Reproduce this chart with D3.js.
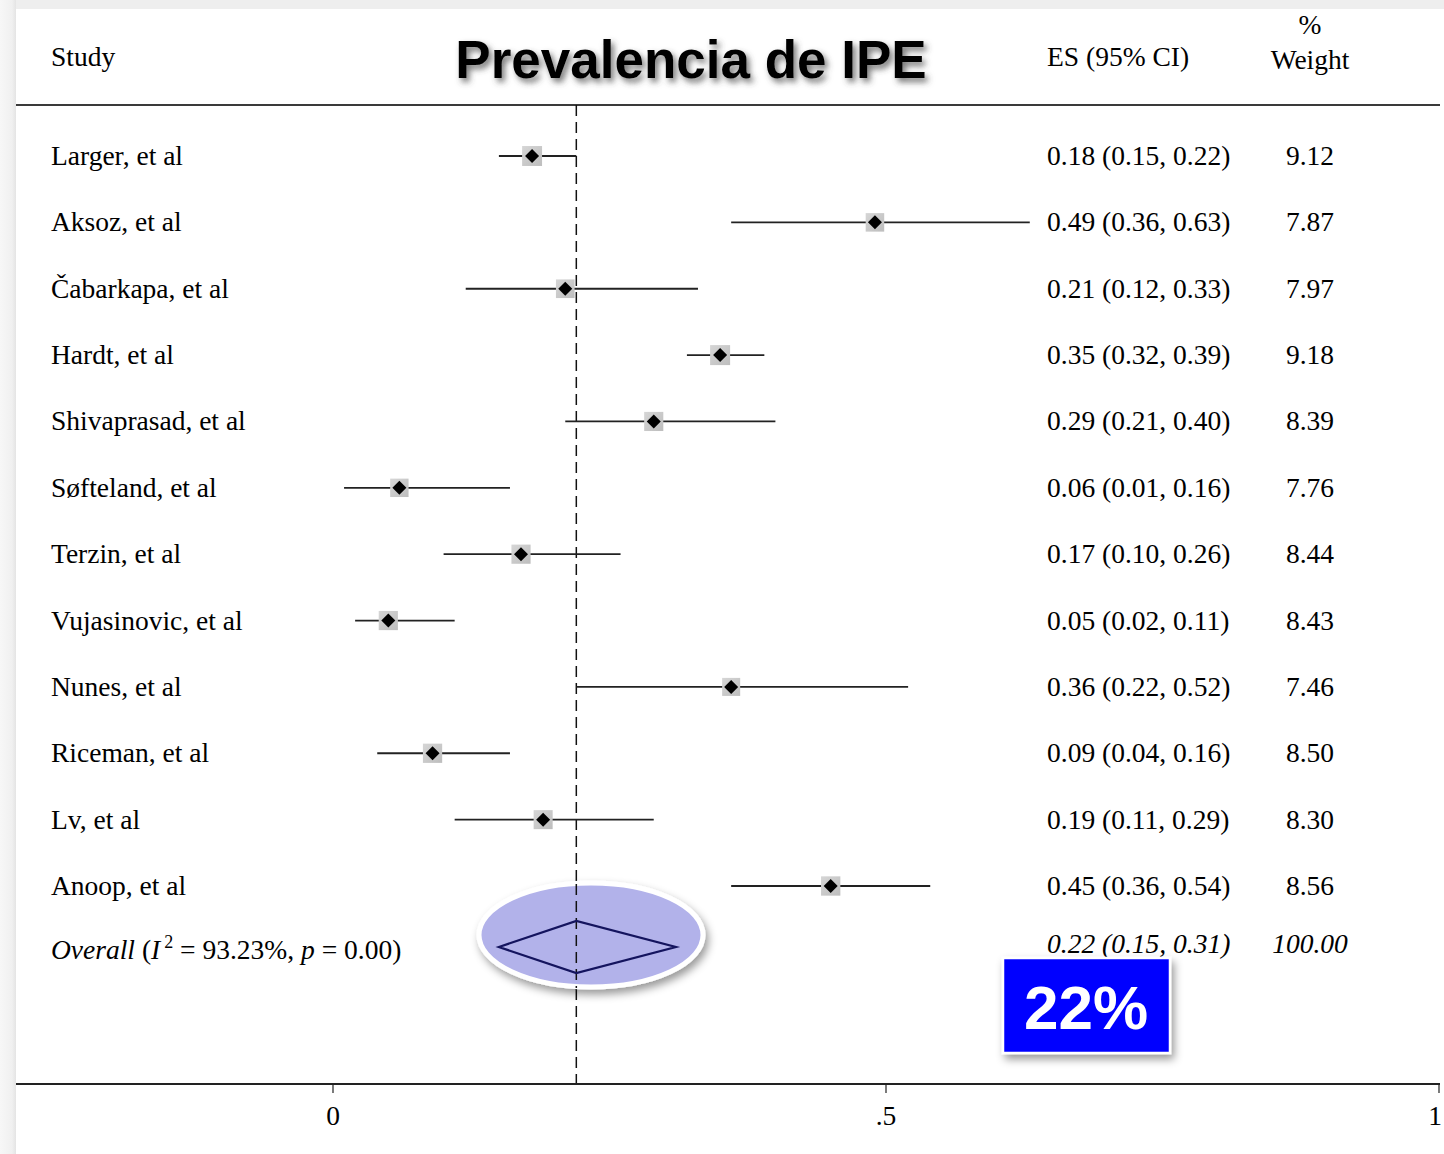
<!DOCTYPE html>
<html>
<head>
<meta charset="utf-8">
<script src="https://cdn.jsdelivr.net/npm/d3@7"></script>
<style>
  html, body { margin: 0; padding: 0; background: #ffffff; }
  svg { display: block; }
</style>
</head>
<body>
<script>
// Study-level prevalence estimates of exocrine pancreatic insufficiency
const studies = ["Larger, et al", "Aksoz, et al", "Čabarkapa, et al", "Hardt, et al",
  "Shivaprasad, et al", "Søfteland, et al", "Terzin, et al", "Vujasinovic, et al",
  "Nunes, et al", "Riceman, et al", "Lv, et al", "Anoop, et al"];
const es    = [0.18, 0.49, 0.21, 0.35, 0.29, 0.06, 0.17, 0.05, 0.36, 0.09, 0.19, 0.45];
const lower = [0.15, 0.36, 0.12, 0.32, 0.21, 0.01, 0.10, 0.02, 0.22, 0.04, 0.11, 0.36];
const upper = [0.22, 0.63, 0.33, 0.39, 0.40, 0.16, 0.26, 0.11, 0.52, 0.16, 0.29, 0.54];
const weights = ["9.12", "7.87", "7.97", "9.18", "8.39", "7.76", "8.44", "8.43", "7.46", "8.50", "8.30", "8.56"];

// Pooled estimate
const overallES = 0.22, overallLo = 0.15, overallHi = 0.31;
const overallWeight = "100.00";
const overallI2 = "93.23%", overallP = "0.00";

const xTicks = [0, 0.5, 1];
const xTickLabels = ["0", ".5", "1"];

const W = 1444, H = 1154;
const serif = "'Liberation Serif', 'Times New Roman', serif";
const sans = "'Liberation Sans', Arial, Helvetica, sans-serif";
const fs = 27.5;
const ink = "#000";

const svg = d3.select("body").append("svg").attr("width", W).attr("height", H);
const defs = svg.append("defs");

defs.append("filter").attr("id", "titleShadow")
  .attr("x", "-10%").attr("y", "-30%").attr("width", "130%").attr("height", "170%")
  .append("feDropShadow").attr("dx", 3).attr("dy", 4).attr("stdDeviation", 3)
  .attr("flood-color", "#444").attr("flood-opacity", 0.75);

defs.append("filter").attr("id", "boxShadow")
  .attr("x", "-20%").attr("y", "-20%").attr("width", "150%").attr("height", "150%")
  .append("feDropShadow").attr("dx", 3).attr("dy", 5).attr("stdDeviation", 4)
  .attr("flood-color", "#000").attr("flood-opacity", 0.4);

const sq = defs.append("linearGradient").attr("id", "sqGrad")
  .attr("x1", 0).attr("y1", 0).attr("x2", 1).attr("y2", 1);
sq.append("stop").attr("offset", "0%").attr("stop-color", "#d6d6d6");
sq.append("stop").attr("offset", "100%").attr("stop-color", "#bdbdbd");

// Page frame: pale strips along the top and left
const leftGrad = defs.append("linearGradient").attr("id", "leftGrad")
  .attr("x1", 0).attr("y1", 0).attr("x2", 1).attr("y2", 0);
leftGrad.append("stop").attr("offset", "0%").attr("stop-color", "#f7f7f7");
leftGrad.append("stop").attr("offset", "75%").attr("stop-color", "#f0f0f0");
leftGrad.append("stop").attr("offset", "100%").attr("stop-color", "#e4e4e4");
svg.append("rect").attr("x", 0).attr("y", 0).attr("width", W).attr("height", 9).attr("fill", "#eeeeee");
svg.append("rect").attr("x", 0).attr("y", 0).attr("width", 16).attr("height", H).attr("fill", "url(#leftGrad)");

// Scales
const x = d3.scaleLinear().domain([0, 1]).range([333, 1439]);
const y = d3.scaleLinear().domain([0, studies.length - 1]).range([156, 886]);
const yOverall = 947;
const plotTop = 105, axisY = 1084;

// Header rule
svg.append("line").attr("x1", 16).attr("x2", 1440).attr("y1", plotTop).attr("y2", plotTop)
  .attr("stroke", "#3a3a3a").attr("stroke-width", 2);

// Dashed reference at the pooled estimate
svg.append("line").attr("x1", x(overallES)).attr("x2", x(overallES))
  .attr("y1", plotTop).attr("y2", axisY)
  .attr("stroke", "#111").attr("stroke-width", 1.5).attr("stroke-dasharray", "11,6");

// Headers
svg.append("text").attr("x", 51).attr("y", 66).attr("font-family", serif)
  .attr("font-size", fs).attr("fill", ink).text("Study");
svg.append("text").attr("x", 1047).attr("y", 66).attr("font-family", serif)
  .attr("font-size", fs).attr("fill", ink).text("ES (95% CI)");
svg.append("text").attr("x", 1310).attr("y", 34).attr("text-anchor", "middle").attr("font-family", serif)
  .attr("font-size", fs).attr("fill", ink).text("%");
svg.append("text").attr("x", 1310).attr("y", 69).attr("text-anchor", "middle").attr("font-family", serif)
  .attr("font-size", fs).attr("fill", ink).text("Weight");

svg.append("text").attr("x", 691).attr("y", 78).attr("text-anchor", "middle")
  .attr("font-family", sans).attr("font-weight", "bold").attr("font-size", 53)
  .attr("fill", "#000").attr("filter", "url(#titleShadow)").text("Prevalencia de IPE");

// Study rows
const rows = svg.append("g").selectAll("g").data(studies).join("g");

rows.append("text").attr("x", 51).attr("y", (d, i) => y(i) + 9)
  .attr("font-family", serif).attr("font-size", fs).attr("fill", ink).text(d => d);

rows.append("line")
  .attr("x1", (d, i) => x(lower[i])).attr("x2", (d, i) => x(upper[i]))
  .attr("y1", (d, i) => y(i)).attr("y2", (d, i) => y(i))
  .attr("stroke", "#222").attr("stroke-width", 1.8);

const wMax = d3.max(weights, w => +w);
rows.append("rect")
  .each(function (d, i) {
    const s = 20 * Math.sqrt(+weights[i] / wMax);
    d3.select(this).attr("x", x(es[i]) - s / 2).attr("y", y(i) - s / 2)
      .attr("width", s).attr("height", s);
  })
  .attr("fill", "url(#sqGrad)");

rows.append("path")
  .attr("d", (d, i) => {
    const cx = x(es[i]), cy = y(i), r = 7;
    return `M${cx - r},${cy}L${cx},${cy - r}L${cx + r},${cy}L${cx},${cy + r}Z`;
  })
  .attr("fill", "#000");

rows.append("text").attr("x", 1047).attr("y", (d, i) => y(i) + 9)
  .attr("font-family", serif).attr("font-size", fs).attr("fill", ink)
  .text((d, i) => `${es[i].toFixed(2)} (${lower[i].toFixed(2)}, ${upper[i].toFixed(2)})`);

rows.append("text").attr("x", 1310).attr("y", (d, i) => y(i) + 9).attr("text-anchor", "middle")
  .attr("font-family", serif).attr("font-size", fs).attr("fill", ink)
  .text((d, i) => weights[i]);

// Overall row
const ov = svg.append("text").attr("x", 51).attr("y", yOverall + 12)
  .attr("font-family", serif).attr("font-size", fs).attr("fill", ink);
ov.append("tspan").attr("font-style", "italic").text("Overall");
ov.append("tspan").text(" (");
ov.append("tspan").attr("font-style", "italic").text("I");
ov.append("tspan").attr("font-size", 18).attr("dx", 4).attr("dy", -11).text("2");
ov.append("tspan").attr("dy", 11).text(` = ${overallI2}, `);
ov.append("tspan").attr("font-style", "italic").text("p");
ov.append("tspan").text(` = ${overallP})`);

svg.append("text").attr("x", 1047).attr("y", yOverall + 6)
  .attr("font-family", serif).attr("font-style", "italic").attr("font-size", fs).attr("fill", ink)
  .text(`${overallES.toFixed(2)} (${overallLo.toFixed(2)}, ${overallHi.toFixed(2)})`);
svg.append("text").attr("x", 1310).attr("y", yOverall + 6).attr("text-anchor", "middle")
  .attr("font-family", serif).attr("font-style", "italic").attr("font-size", fs).attr("fill", ink)
  .text(overallWeight);

// Highlight behind the pooled diamond
svg.append("ellipse").attr("cx", 591).attr("cy", 935).attr("rx", 112).attr("ry", 52)
  .attr("fill", "#b2b2ea").attr("stroke", "#ffffff").attr("stroke-width", 5)
  .attr("filter", "url(#boxShadow)");

// Dashed reference continues through the highlight
svg.append("line").attr("x1", x(overallES)).attr("x2", x(overallES))
  .attr("y1", 884).attr("y2", 988)
  .attr("stroke", "#111").attr("stroke-width", 1.5).attr("stroke-dasharray", "11,6");

svg.append("path")
  .attr("d", `M${x(overallLo)},${yOverall}L${x(overallES)},${yOverall - 26}L${x(overallHi)},${yOverall}L${x(overallES)},${yOverall + 26}Z`)
  .attr("fill", "none").attr("stroke", "#14145e").attr("stroke-width", 2.2);

// Axis
const axis = svg.append("g").attr("transform", `translate(0,${axisY})`);
axis.append("line").attr("x1", 16).attr("x2", 1440).attr("stroke", "#222").attr("stroke-width", 2.2);
axis.selectAll(".tick").data(xTicks).join("g").attr("class", "tick")
  .attr("transform", d => `translate(${x(d)},0)`)
  .call(t => {
    t.append("line").attr("y1", 0).attr("y2", 9).attr("stroke", "#222").attr("stroke-width", 1.2);
    t.append("text").attr("y", 41)
      .attr("text-anchor", (d, i) => i === xTicks.length - 1 ? "end" : "middle")
      .attr("dx", (d, i) => i === xTicks.length - 1 ? 3 : 0)
      .attr("font-family", serif).attr("font-size", fs).attr("fill", ink)
      .text((d, i) => xTickLabels[i]);
  });

// Callout with the pooled prevalence
const callout = svg.append("g");
callout.append("rect").attr("x", 1003).attr("y", 958).attr("width", 167).attr("height", 95)
  .attr("fill", "#0000ff").attr("stroke", "#ffffff").attr("stroke-width", 2.5)
  .attr("filter", "url(#boxShadow)");
callout.append("text").attr("x", 1086).attr("y", 1029).attr("text-anchor", "middle")
  .attr("font-family", sans).attr("font-weight", "bold").attr("font-size", 62)
  .attr("fill", "#ffffff").text(`${Math.round(overallES * 100)}%`);
</script>
</body>
</html>
